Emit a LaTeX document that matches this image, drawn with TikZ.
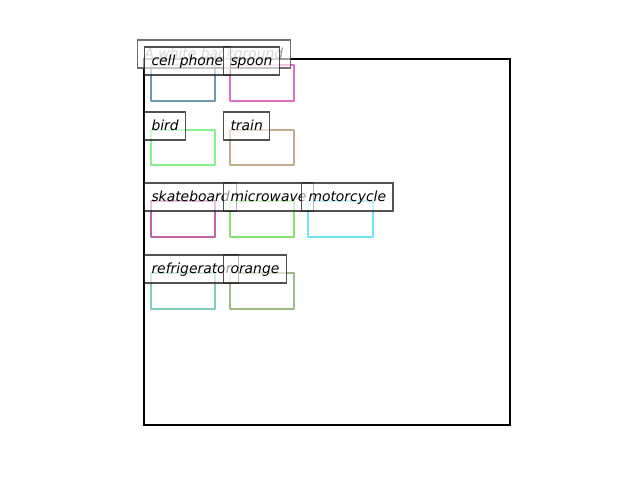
\documentclass[tikz,border=0pt]{standalone}
\usepackage{fontspec}
\setmainfont{DejaVu Sans}
\begin{document}
\begin{tikzpicture}[x=0.72pt,y=-0.72pt,
  objbox/.style={line width=2pt,line join=round},
  lbl/.style={anchor=west,draw=black!85,draw opacity=0.8,fill=white,fill opacity=0.6,text opacity=1,
    inner xsep=5pt,inner ysep=0pt,minimum height=20.16pt,text height=8pt,text depth=1.8pt,
    font=\fontsize{10pt}{12pt}\selectfont\itshape,line width=0.8pt},
  ttl/.style={lbl,text=black!40,draw=black!70}]
\definecolor{cphone}{HTML}{6E9AB0}
\definecolor{cspoon}{HTML}{E06EC0}
\definecolor{cbird}{HTML}{86F28E}
\definecolor{ctrain}{HTML}{C2AC90}
\definecolor{cskate}{HTML}{C064A2}
\definecolor{cmicro}{HTML}{86E072}
\definecolor{cmoto}{HTML}{70E2F8}
\definecolor{cfridge}{HTML}{86CCAE}
\definecolor{corange}{HTML}{A0B888}
\useasboundingbox[fill=white] (0,0) rectangle (640,480);
\draw[line width=2pt] (144,59) rectangle (510,425);
\draw[objbox,cphone] (151,65) rectangle (215,101);
\draw[objbox,cspoon] (230,65) rectangle (294,101);
\draw[objbox,cbird] (151,130) rectangle (215,165);
\draw[objbox,ctrain] (230,130) rectangle (294,165);
\draw[objbox,cskate] (151,201) rectangle (215,237);
\draw[objbox,cmicro] (230,201) rectangle (294,237);
\draw[objbox,cmoto] (308,201) rectangle (373,237);
\draw[objbox,cfridge] (151,273) rectangle (215,309);
\draw[objbox,corange] (230,273) rectangle (294,309);
\node[ttl] (title) at (137,54) {A white background};
\node[lbl] (l1) at (144,61) {cell phone};
\node[lbl] (l2) at (223,61) {spoon};
\node[lbl] (l3) at (144,126) {bird};
\node[lbl] (l4) at (223,126) {train};
\node[lbl] (l5) at (144,197) {skateboard};
\node[lbl] (l6) at (223,197) {microwave};
\node[lbl] (l7) at (301,197) {motorcycle};
\node[lbl] (l8) at (144,269) {refrigerator};
\node[lbl] (l9) at (223,269) {orange};
\end{tikzpicture}
\end{document}
